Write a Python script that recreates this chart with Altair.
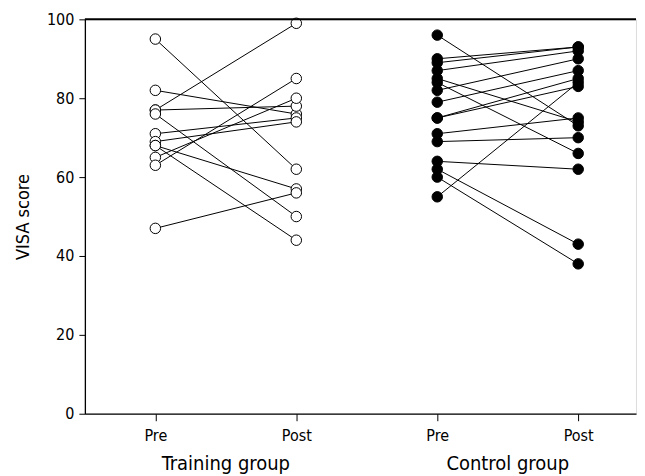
import altair as alt
import pandas as pd

# Training group (open circles), paired pre/post VISA scores
train_pre = [95, 82, 77, 77, 76, 71, 69, 68, 68, 65, 63, 47]
train_post = [62, 76, 99, 78, 50, 75, 74, 57, 44, 80, 85, 56]
# Control group (filled circles)
ctrl_pre = [96, 90, 89, 87, 85, 84, 82, 79, 75, 75, 71, 69, 64, 62, 60, 55]
ctrl_post = [73, 93, 93, 92, 74, 66, 90, 87, 83, 85, 75, 70, 62, 43, 38, 84]

tick_labels = ["Pre", "Post", "Pre", "Post"]
group_names = ["Training group", "Control group"]
group_pos = [1.5, 3.5]

rows = []
for i, (a, b) in enumerate(zip(train_pre, train_post)):
    rows.append({"subj": f"T{i}", "grp": "Training", "x": 1, "v": a})
    rows.append({"subj": f"T{i}", "grp": "Training", "x": 2, "v": b})
for i, (a, b) in enumerate(zip(ctrl_pre, ctrl_post)):
    rows.append({"subj": f"C{i}", "grp": "Control", "x": 3, "v": a})
    rows.append({"subj": f"C{i}", "grp": "Control", "x": 4, "v": b})
df = pd.DataFrame(rows)

W, H = 552, 395
FONT = "DejaVu Sans Condensed, DejaVu Sans"

xs = alt.Scale(domain=[0.5, 4.41], nice=False, zero=False)
ys = alt.Scale(domain=[0, 100], nice=False)

label_expr = ("datum.value == 1 ? '%s' : datum.value == 2 ? '%s' : datum.value == 3 ? '%s' : '%s'"
              % tuple(tick_labels))

x_enc = alt.X("x:Q", scale=xs, title=None,
              axis=alt.Axis(values=[1, 2, 3, 4], labelExpr=label_expr, grid=False,
                            domainColor="black", tickColor="black", tickSize=7,
                            labelFontSize=16, labelFont=FONT, labelColor="black",
                            labelPadding=7, domainWidth=1.3))
y_enc = alt.Y("v:Q", scale=ys, title="VISA score",
              axis=alt.Axis(values=[0, 20, 40, 60, 80, 100], grid=False,
                            domainColor="black", tickColor="black", tickSize=6,
                            labelFontSize=16, labelFont=FONT, labelColor="black",
                            labelPadding=5,
                            titleFontSize=18, titleFont=FONT, titleFontWeight="normal",
                            titleColor="black", titlePadding=14, domainWidth=1.3))

lines = alt.Chart(df).mark_line(color="black", strokeWidth=1).encode(
    x=x_enc, y=y_enc, detail="subj:N")

open_pts = alt.Chart(df).transform_filter(alt.datum.grp == "Training").mark_point(
    shape="circle", size=110, filled=True, fill="white", stroke="black",
    strokeWidth=1, opacity=1).encode(x="x:Q", y="v:Q")

filled_pts = alt.Chart(df).transform_filter(alt.datum.grp == "Control").mark_point(
    shape="circle", size=110, filled=True, fill="black", stroke="black",
    strokeWidth=1, opacity=1).encode(x="x:Q", y="v:Q")

top_df = pd.DataFrame({"v": [100]})
top_line = alt.Chart(top_df).mark_rule(color="black", strokeWidth=2).encode(
    y="v:Q", x=alt.value(0), x2=alt.value(W))

grp_df = pd.DataFrame({"name": group_names, "x": group_pos})
grp_text = alt.Chart(grp_df).mark_text(
    fontSize=20, font=FONT, color="black", baseline="top").encode(
    x="x:Q", text="name:N", y=alt.value(H + 40))

chart = alt.layer(lines, open_pts, filled_pts, top_line, grp_text).properties(
    width=W, height=H,
    padding={"left": 6, "top": 3, "right": 0, "bottom": 0},
).configure_view(stroke=None).configure(background="white")

chart.save("out.html", embed_options={"renderer": "svg", "actions": False})
